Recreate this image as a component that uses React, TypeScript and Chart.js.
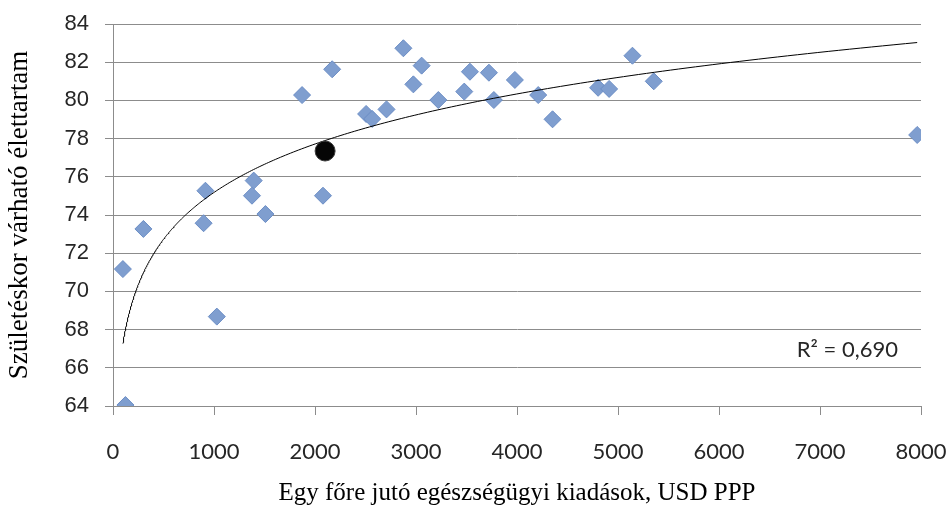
import React, { useEffect, useRef } from "react";
import { Chart, registerables } from "chart.js";

Chart.register(...registerables);

// Health expenditure per capita (USD PPP) vs life expectancy at birth
const spendX = [
  98, 301, 123, 915, 897, 1028, 1393, 1376, 1509, 2079, 1872, 2170, 2506, 2566,
  2708, 2875, 2974, 3056, 3221, 3478, 3534, 3722, 3771, 3979, 4210, 4352, 4803,
  4912, 5143, 5354, 7962,
];
const lifeY = [
  71.17, 73.27, 64.05, 75.27, 73.57, 68.68, 75.8, 75.01, 74.05, 75.01, 80.28,
  81.63, 79.29, 79.03, 79.53, 82.73, 80.84, 81.82, 80.02, 80.46, 81.5, 81.45,
  80.02, 81.07, 80.28, 79.01, 80.66, 80.6, 82.34, 81.0, 78.19,
];
// Highlighted country (Hungary)
const highlightX = [2100];
const highlightY = [77.35];

const xTickValues = [0, 1000, 2000, 3000, 4000, 5000, 6000, 7000, 8000];
const yTickValues = [64, 66, 68, 70, 72, 74, 76, 78, 80, 82, 84];
const r2Label = "R\u00B2 = 0,690";
const xTitle = "Egy főre jutó egészségügyi kiadások, USD PPP";
const yTitle = "Születéskor várható élettartam";

// Power trendline (as in Excel): ln y = c ln x + d
function fitPower(xs: number[], ys: number[]) {
  const n = xs.length;
  const lx = xs.map((v) => Math.log(v));
  const ly = ys.map((v) => Math.log(v));
  const mx = lx.reduce((a, b) => a + b, 0) / n;
  const my = ly.reduce((a, b) => a + b, 0) / n;
  let sxy = 0;
  let sxx = 0;
  for (let i = 0; i < n; i++) {
    sxy += (lx[i] - mx) * (ly[i] - my);
    sxx += (lx[i] - mx) * (lx[i] - mx);
  }
  const c = sxy / sxx;
  return { c, k: Math.exp(my - c * mx) };
}

const GRID = "#8c8c8c";
const TEXT = "#262626";

export default function App() {
  const ref = useRef<HTMLCanvasElement | null>(null);

  useEffect(() => {
    if (!ref.current) return;
    const { c, k } = fitPower(spendX, lifeY);
    const minX = Math.min(...spendX);
    const maxX = Math.max(...spendX);
    const trend: { x: number; y: number }[] = [];
    const steps = 300;
    for (let i = 0; i <= steps; i++) {
      const x = minX * Math.pow(maxX / minX, i / steps);
      trend.push({ x, y: k * Math.pow(x, c) });
    }

    const r2Plugin = {
      id: "r2",
      afterDraw(chart: any) {
        const { ctx, chartArea } = chart;
        ctx.save();
        ctx.font = "22px Lato";
        ctx.fillStyle = TEXT;
        ctx.textAlign = "right";
        ctx.textBaseline = "middle";
        ctx.fillText(r2Label, chartArea.right - 23, chartArea.bottom - 56);
        ctx.restore();
      },
    };

    const chart = new Chart(ref.current, {
      type: "scatter",
      data: {
        datasets: [
          {
            label: "Magyarország",
            data: highlightX.map((x, i) => ({ x, y: highlightY[i] })),
            pointStyle: "circle",
            pointRadius: 10,
            backgroundColor: "#050505",
            borderColor: "#3a3a3a",
            borderWidth: 1,
            order: -1,
          },
          {
            label: "Trend",
            type: "line",
            data: trend,
            showLine: true,
            pointRadius: 0,
            borderColor: "#000000",
            borderWidth: 1,
            fill: false,
            tension: 0,
            order: 0,
          } as any,
          {
            label: "Országok",
            data: spendX.map((x, i) => ({ x, y: lifeY[i] })),
            pointStyle: "rectRot",
            pointRadius: 8.5,
            backgroundColor: "#7F9ECF",
            borderColor: "#6B8DC5",
            borderWidth: 1,
            order: 1,
          },
        ],
      },
      options: {
        animation: false,
        responsive: false,
        maintainAspectRatio: false,
        layout: { padding: { top: 24, right: 28, left: 0, bottom: 0 } },
        plugins: {
          legend: { display: false },
          tooltip: { enabled: false },
        },
        scales: {
          x: {
            type: "linear",
            min: 0,
            max: 8000,
            afterBuildTicks: (s: any) => {
              s.ticks = xTickValues.map((v) => ({ value: v }));
            },
            afterFit: (s: any) => {
              s.height = 102;
              s.paddingLeft = 0;
              s.paddingRight = 0;
            },
            ticks: {
              font: { family: "Lato", size: 22 },
              color: TEXT,
              padding: 24,
              maxRotation: 0,
              callback: (v: any) => String(v),
            },
            grid: {
              drawOnChartArea: false,
              drawTicks: true,
              tickLength: 9,
              color: GRID,
            },
            border: { display: true, color: GRID },
            title: {
              display: true,
              text: xTitle,
              font: { family: "Liberation Serif", size: 25 },
              color: "#000",
              padding: { top: 0, bottom: 0 },
            },
          },
          y: {
            type: "linear",
            min: 64,
            max: 84,
            afterBuildTicks: (s: any) => {
              s.ticks = yTickValues.map((v) => ({ value: v }));
            },
            afterFit: (s: any) => {
              s.width = 113;
              s.paddingTop = 0;
              s.paddingBottom = 0;
            },
            ticks: {
              font: { family: "Liberation Sans", size: 22 },
              color: TEXT,
              padding: 16,
              callback: (v: any) => String(v),
            },
            grid: {
              drawTicks: true,
              tickLength: 8,
              color: GRID,
            },
            border: { display: true, color: GRID },
            title: {
              display: true,
              text: yTitle,
              font: { family: "Liberation Serif", size: 27 },
              color: "#000",
              padding: { top: 4, bottom: 0 },
            },
          },
        },
      },
      plugins: [r2Plugin],
    });
    return () => chart.destroy();
  }, []);

  return (
    <div style={{ position: "fixed", left: 0, top: 0, width: 949, height: 508, background: "#fff" }}>
      <canvas ref={ref} width={949} height={508} style={{ display: "block" }} />
    </div>
  );
}
